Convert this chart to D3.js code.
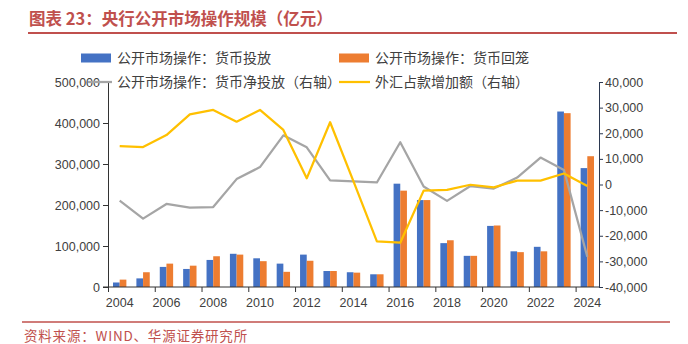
<!DOCTYPE html>
<html>
<head>
<meta charset="utf-8">
<script src="https://cdn.jsdelivr.net/npm/d3@7"></script>
<style>
  body { margin: 0; background: #fff; }
  svg { display: block; font-family: "Liberation Sans", Arial, "Noto Sans CJK SC", sans-serif; }
  .cjk { font-family: "Noto Sans CJK SC", sans-serif; }
</style>
</head>
<body>
<div id="chart"></div>
<script>
// data (亿元)
var years = [2004, 2005, 2006, 2007, 2008, 2009, 2010, 2011, 2012, 2013, 2014,
             2015, 2016, 2017, 2018, 2019, 2020, 2021, 2022, 2023, 2024];
var putIn   = [11000, 21000, 49000, 44000, 66000, 81000, 70000, 57000, 79000, 39000, 36000,
               31000, 252000, 212000, 107000, 76000, 149000, 87000, 98000, 428000, 290000];
var takeOut = [18000, 36000, 57000, 52000, 75000, 79000, 63000, 37000, 64000, 39000, 35000,
               31000, 235000, 212000, 114000, 76000, 150000, 85000, 87000, 424000, 319000];
var netPut  = [-6300, -13300, -7600, -9000, -8800, 2100, 6800, 19200, 14500, 1600, 1200,
               800, 16500, -800, -6400, -600, -1600, 2700, 10500, 5700, -28200];
var fxAdd   = [15000, 14600, 19300, 27400, 29100, 24500, 29100, 21300, 2400, 24300, 1200,
               -22200, -22700, -2400, -2100, -100, -1100, 1500, 1500, 4300, -600];

var leftTicks  = [0, 100000, 200000, 300000, 400000, 500000];
var rightTicks = [-40000, -30000, -20000, -10000, 0, 10000, 20000, 30000, 40000];
var xLabelYears = years.filter(function(d, i) { return i % 2 === 0; });

var titleText  = "图表 23：央行公开市场操作规模（亿元）";
var sourceText = "资料来源：WIND、华源证券研究所";
var legendNames = ["公开市场操作：货币投放", "公开市场操作：货币回笼",
                   "公开市场操作：货币净投放（右轴）", "外汇占款增加额（右轴）"];

var W = 688, H = 344;
var plot = {left: 108, right: 599, top: 82, bottom: 287};
var red = "#C0504D";
var colBlue = "#4472C4", colOrange = "#ED7D31", colGray = "#A5A5A5", colYellow = "#FFC000";
var textCol = "#404040";

var loc = d3.formatLocale({decimal: ".", thousands: ",", grouping: [3], currency: ["", ""], minus: "-"});
var fmt = loc.format(",");

var svg = d3.select("#chart").append("svg")
    .attr("width", W)
    .attr("height", H);

// title + rules
svg.append("text")
    .attr("class", "cjk")
    .attr("x", 29).attr("y", 25)
    .attr("font-size", "16.5px")
    .attr("font-weight", "bold")
    .attr("fill", red)
    .text(titleText);
svg.append("line")
    .attr("x1", 28).attr("x2", 677).attr("y1", 33).attr("y2", 33)
    .attr("stroke", red).attr("stroke-width", 2);
svg.append("line")
    .attr("x1", 22).attr("x2", 670).attr("y1", 322).attr("y2", 322)
    .attr("stroke", red).attr("stroke-width", 1.5);
svg.append("text")
    .attr("class", "cjk")
    .attr("x", 24).attr("y", 341)
    .attr("font-size", "13.5px")
    .attr("letter-spacing", "0.8px")
    .attr("fill", red)
    .text(sourceText);

// scales
var x = d3.scaleBand()
    .domain(years)
    .range([plot.left, plot.right])
    .padding(0);

var x1 = d3.scaleBand()
    .domain(["in", "out"])
    .range([0, x.bandwidth()])
    .paddingInner(0)
    .paddingOuter(0.75);

var yL = d3.scaleLinear().domain([0, 500000]).range([plot.bottom, plot.top]);
var yR = d3.scaleLinear().domain([-40000, 40000]).range([plot.bottom, plot.top]);

// bars
var barData = years.map(function(y, i) { return {year: y, vin: putIn[i], vout: takeOut[i]}; });
var groups = svg.selectAll(".grp")
    .data(barData)
    .enter().append("g")
    .attr("class", "grp")
    .attr("transform", function(d) { return "translate(" + x(d.year) + ",0)"; });
groups.append("rect")
    .attr("x", x1("in"))
    .attr("width", x1.bandwidth())
    .attr("y", function(d) { return yL(d.vin); })
    .attr("height", function(d) { return yL(0) - yL(d.vin); })
    .attr("fill", colBlue);
groups.append("rect")
    .attr("x", x1("out"))
    .attr("width", x1.bandwidth())
    .attr("y", function(d) { return yL(d.vout); })
    .attr("height", function(d) { return yL(0) - yL(d.vout); })
    .attr("fill", colOrange);

// lines on right axis
var cx = function(i) { return x(years[i]) + x.bandwidth() / 2; };
var line = d3.line()
    .x(function(d, i) { return cx(i); })
    .y(function(d) { return yR(d); });

svg.append("path")
    .datum(netPut)
    .attr("d", line)
    .attr("fill", "none")
    .attr("stroke", colGray)
    .attr("stroke-width", 2.25)
    .attr("stroke-linejoin", "round");
svg.append("path")
    .datum(fxAdd)
    .attr("d", line)
    .attr("fill", "none")
    .attr("stroke", colYellow)
    .attr("stroke-width", 2.25)
    .attr("stroke-linejoin", "round");

// left axis
var gL = svg.append("g")
    .attr("transform", "translate(" + plot.left + ",0)")
    .call(d3.axisLeft(yL).tickValues(leftTicks).tickFormat(fmt).tickSize(5).tickSizeOuter(0).tickPadding(3));
gL.select(".domain").attr("stroke", "#333");
gL.selectAll(".tick line").attr("stroke", "#333");
gL.selectAll("text").attr("font-size", "12.5px").attr("fill", textCol).attr("font-family", "Liberation Sans, Arial, sans-serif");

// right axis
var gR = svg.append("g")
    .attr("transform", "translate(" + plot.right + ",0)")
    .call(d3.axisRight(yR).tickValues(rightTicks).tickFormat(fmt).tickSize(4).tickSizeOuter(0).tickPadding(2));
gR.select(".domain").attr("stroke", "#2B3850");
gR.selectAll(".tick line").attr("stroke", "#2B3850");
gR.selectAll("text").attr("font-size", "12.5px").attr("fill", textCol).attr("font-family", "Liberation Sans, Arial, sans-serif");

// bottom axis: tick marks at every second band edge, labels at band centres
var edge = d3.scaleLinear().domain([0, years.length]).range([plot.left, plot.right]);
var gB = svg.append("g")
    .attr("transform", "translate(0," + plot.bottom + ")")
    .call(d3.axisBottom(edge).tickValues(d3.range(0, years.length, 2)).tickSize(5).tickSizeOuter(0).tickFormat(""));
gB.select(".domain").attr("stroke", "#333").attr("d", "M" + (plot.left - 5) + ",0H" + plot.right);
gB.selectAll(".tick line").attr("stroke", "#333");

var gX = svg.append("g")
    .attr("transform", "translate(0," + plot.bottom + ")")
    .call(d3.axisBottom(x).tickValues(xLabelYears).tickSize(0).tickPadding(11));
gX.select(".domain").remove();
gX.selectAll("text").attr("font-size", "12.5px").attr("fill", textCol).attr("font-family", "Liberation Sans, Arial, sans-serif");

// legend
var legend = svg.append("g").attr("class", "cjk").attr("font-size", "14px").attr("fill", textCol);
var legItems = [
    {x: 81,  y: 58, type: "rect", color: colBlue},
    {x: 339, y: 58, type: "rect", color: colOrange},
    {x: 81,  y: 82, type: "line", color: colGray},
    {x: 339, y: 82, type: "line", color: colYellow}
];
legItems.forEach(function(it, i) {
    if (it.type === "rect") {
        legend.append("rect")
            .attr("x", it.x).attr("y", it.y - 4.5)
            .attr("width", 30).attr("height", 9)
            .attr("fill", it.color);
    } else {
        legend.append("line")
            .attr("x1", i === 2 ? it.x + 7 : it.x).attr("x2", it.x + 31)
            .attr("y1", it.y).attr("y2", it.y)
            .attr("stroke", it.color).attr("stroke-width", 2.25);
    }
    legend.append("text")
        .attr("x", it.x + 36).attr("y", it.y)
        .attr("dy", "0.36em")
        .text(legendNames[i]);
});
</script>
</body>
</html>
